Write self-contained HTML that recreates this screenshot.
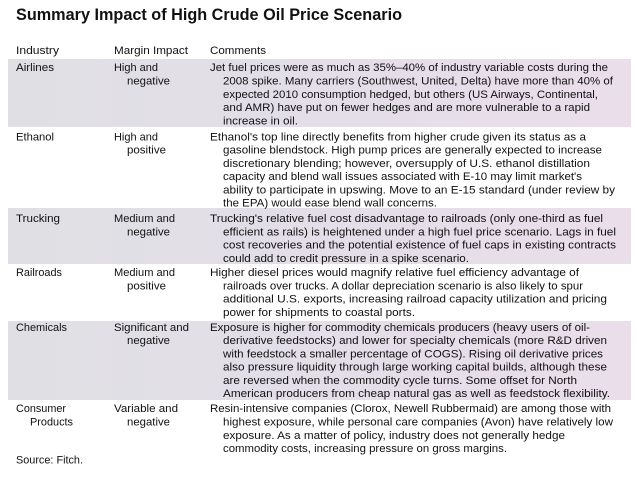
<!DOCTYPE html>
<html>
<head>
<meta charset="utf-8">
<style>
html,body{margin:0;padding:0;background:#fff;}
svg{display:block;}
text{font-family:"Liberation Sans","DejaVu Sans",sans-serif;font-size:11.4px;fill:#111;}
.t{font-size:16.5px;font-weight:bold;}
</style>
</head>
<body>
<svg width="637" height="479" viewBox="0 0 637 479" xmlns="http://www.w3.org/2000/svg">
<defs>
<linearGradient id="g" x1="0" y1="0" x2="1" y2="0">
<stop offset="0" stop-color="#e0e0e4"/>
<stop offset="0.5" stop-color="#e3dee8"/>
<stop offset="1" stop-color="#eadeea"/>
</linearGradient>
</defs>
<rect width="637" height="479" fill="#fff"/>
<rect x="8" y="59" width="623" height="68" fill="url(#g)"/>
<rect x="8" y="208" width="623" height="56" fill="url(#g)"/>
<rect x="8" y="321" width="623" height="79" fill="url(#g)"/>

<text class="t" x="16" y="20" textLength="386" lengthAdjust="spacingAndGlyphs">Summary Impact of High Crude Oil Price Scenario</text>

<text x="16" y="54" textLength="43" lengthAdjust="spacingAndGlyphs">Industry</text>
<text x="114" y="54" textLength="74" lengthAdjust="spacingAndGlyphs">Margin Impact</text>
<text x="210" y="54" textLength="56" lengthAdjust="spacingAndGlyphs">Comments</text>

<!-- Airlines -->
<text x="16" y="71" textLength="38" lengthAdjust="spacingAndGlyphs">Airlines</text>
<text x="114" y="71" textLength="44" lengthAdjust="spacingAndGlyphs">High and</text>
<text x="127" y="84.4" textLength="43" lengthAdjust="spacingAndGlyphs">negative</text>
<text x="210" y="71" textLength="398" lengthAdjust="spacingAndGlyphs">Jet fuel prices were as much as 35%–40% of industry variable costs during the</text>
<text x="223" y="84.4" textLength="390" lengthAdjust="spacingAndGlyphs">2008 spike. Many carriers (Southwest, United, Delta) have more than 40% of</text>
<text x="223" y="97.8" textLength="375" lengthAdjust="spacingAndGlyphs">expected 2010 consumption hedged, but others (US Airways, Continental,</text>
<text x="223" y="111.2" textLength="367" lengthAdjust="spacingAndGlyphs">and AMR) have put on fewer hedges and are more vulnerable to a rapid</text>
<text x="223" y="124.6" textLength="75" lengthAdjust="spacingAndGlyphs">increase in oil.</text>

<!-- Ethanol -->
<text x="16" y="140.4" textLength="38" lengthAdjust="spacingAndGlyphs">Ethanol</text>
<text x="114" y="140.4" textLength="44" lengthAdjust="spacingAndGlyphs">High and</text>
<text x="127" y="153.6" textLength="39" lengthAdjust="spacingAndGlyphs">positive</text>
<text x="210" y="140.4" textLength="376" lengthAdjust="spacingAndGlyphs">Ethanol's top line directly benefits from higher crude given its status as a</text>
<text x="223" y="153.6" textLength="379" lengthAdjust="spacingAndGlyphs">gasoline blendstock. High pump prices are generally expected to increase</text>
<text x="223" y="166.9" textLength="367" lengthAdjust="spacingAndGlyphs">discretionary blending; however, oversupply of U.S. ethanol distillation</text>
<text x="223" y="180.1" textLength="359" lengthAdjust="spacingAndGlyphs">capacity and blend wall issues associated with E-10 may limit market's</text>
<text x="223" y="193.4" textLength="392" lengthAdjust="spacingAndGlyphs">ability to participate in upswing. Move to an E-15 standard (under review by</text>
<text x="223" y="206.6" textLength="214" lengthAdjust="spacingAndGlyphs">the EPA) would ease blend wall concerns.</text>

<!-- Trucking -->
<text x="16" y="222" textLength="44" lengthAdjust="spacingAndGlyphs">Trucking</text>
<text x="114" y="222" textLength="61" lengthAdjust="spacingAndGlyphs">Medium and</text>
<text x="127" y="235.3" textLength="43" lengthAdjust="spacingAndGlyphs">negative</text>
<text x="210" y="222" textLength="393" lengthAdjust="spacingAndGlyphs">Trucking's relative fuel cost disadvantage to railroads (only one-third as fuel</text>
<text x="223" y="235.3" textLength="393" lengthAdjust="spacingAndGlyphs">efficient as rails) is heightened under a high fuel price scenario. Lags in fuel</text>
<text x="223" y="248.6" textLength="393" lengthAdjust="spacingAndGlyphs">cost recoveries and the potential existence of fuel caps in existing contracts</text>
<text x="223" y="261.9" textLength="246" lengthAdjust="spacingAndGlyphs">could add to credit pressure in a spike scenario.</text>

<!-- Railroads -->
<text x="16" y="276" textLength="46" lengthAdjust="spacingAndGlyphs">Railroads</text>
<text x="114" y="276" textLength="61" lengthAdjust="spacingAndGlyphs">Medium and</text>
<text x="127" y="289.3" textLength="39" lengthAdjust="spacingAndGlyphs">positive</text>
<text x="210" y="276" textLength="369" lengthAdjust="spacingAndGlyphs">Higher diesel prices would magnify relative fuel efficiency advantage of</text>
<text x="223" y="289.3" textLength="360" lengthAdjust="spacingAndGlyphs">railroads over trucks. A dollar depreciation scenario is also likely to spur</text>
<text x="223" y="302.6" textLength="384" lengthAdjust="spacingAndGlyphs">additional U.S. exports, increasing railroad capacity utilization and pricing</text>
<text x="223" y="315.9" textLength="192" lengthAdjust="spacingAndGlyphs">power for shipments to coastal ports.</text>

<!-- Chemicals -->
<text x="16" y="331" textLength="51" lengthAdjust="spacingAndGlyphs">Chemicals</text>
<text x="114" y="331" textLength="75" lengthAdjust="spacingAndGlyphs">Significant and</text>
<text x="127" y="344.2" textLength="43" lengthAdjust="spacingAndGlyphs">negative</text>
<text x="210" y="331" textLength="380" lengthAdjust="spacingAndGlyphs">Exposure is higher for commodity chemicals producers (heavy users of oil-</text>
<text x="223" y="344.2" textLength="384" lengthAdjust="spacingAndGlyphs">derivative feedstocks) and lower for specialty chemicals (more R&amp;D driven</text>
<text x="223" y="357.5" textLength="380" lengthAdjust="spacingAndGlyphs">with feedstock a smaller percentage of COGS). Rising oil derivative prices</text>
<text x="223" y="370.7" textLength="384" lengthAdjust="spacingAndGlyphs">also pressure liquidity through large working capital builds, although these</text>
<text x="223" y="384" textLength="354" lengthAdjust="spacingAndGlyphs">are reversed when the commodity cycle turns. Some offset for North</text>
<text x="223" y="397.2" textLength="387" lengthAdjust="spacingAndGlyphs">American producers from cheap natural gas as well as feedstock flexibility.</text>

<!-- Consumer Products -->
<text x="16" y="412.2" textLength="50" lengthAdjust="spacingAndGlyphs">Consumer</text>
<text x="30" y="425.5" textLength="43" lengthAdjust="spacingAndGlyphs">Products</text>
<text x="114" y="412.2" textLength="64" lengthAdjust="spacingAndGlyphs">Variable and</text>
<text x="127" y="425.5" textLength="43" lengthAdjust="spacingAndGlyphs">negative</text>
<text x="210" y="412.2" textLength="401" lengthAdjust="spacingAndGlyphs">Resin-intensive companies (Clorox, Newell Rubbermaid) are among those with</text>
<text x="223" y="425.5" textLength="390" lengthAdjust="spacingAndGlyphs">highest exposure, while personal care companies (Avon) have relatively low</text>
<text x="223" y="438.8" textLength="342" lengthAdjust="spacingAndGlyphs">exposure. As a matter of policy, industry does not generally hedge</text>
<text x="223" y="452" textLength="284" lengthAdjust="spacingAndGlyphs">commodity costs, increasing pressure on gross margins.</text>

<text x="16" y="463.7" textLength="67" lengthAdjust="spacingAndGlyphs">Source: Fitch.</text>
</svg>
</body>
</html>
